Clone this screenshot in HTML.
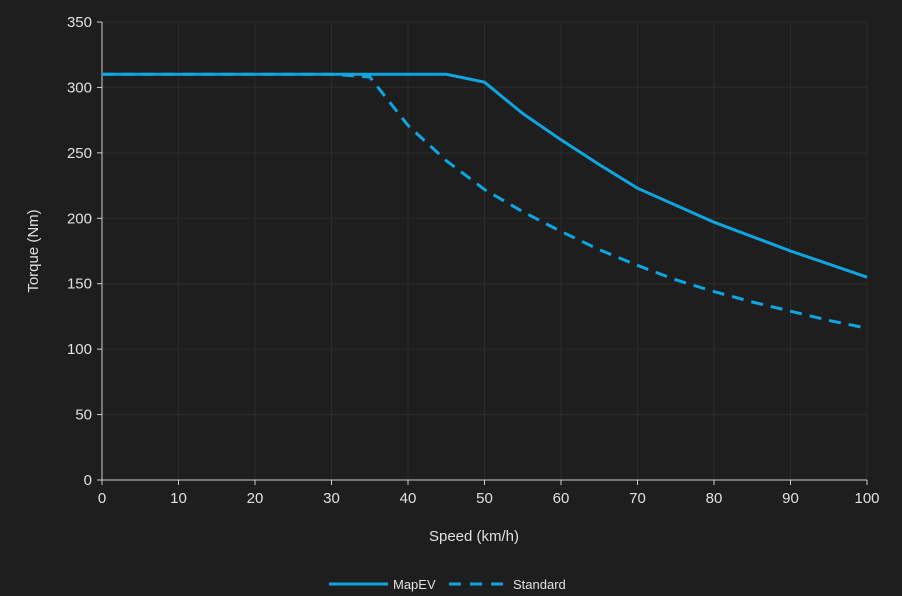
<!DOCTYPE html>
<html><head><meta charset="utf-8"><style>
html,body{margin:0;padding:0;background:#1e1e1e;}
svg{display:block;font-family:"Liberation Sans",sans-serif;}
</style></head><body>
<svg id="s" width="902" height="596" xmlns="http://www.w3.org/2000/svg"></svg>
<script>
const s=document.getElementById('s');
const X=v=>102+7.65*v, Y=v=>480-v*1.3086;
let h='<rect width="902" height="596" fill="#1e1e1e"/>';
for(let i=10;i<=100;i+=10)h+=`<line x1="${X(i)}" y1="22" x2="${X(i)}" y2="480" stroke="#2c2c2c" stroke-width="1"/>`;
for(let i=50;i<=350;i+=50)h+=`<line x1="102" y1="${Y(i)}" x2="867" y2="${Y(i)}" stroke="#2c2c2c" stroke-width="1"/>`;
h+=`<line x1="102" y1="22" x2="102" y2="480" stroke="#cfcfcf"/><line x1="102" y1="480" x2="867" y2="480" stroke="#cfcfcf"/>`;
for(let i=0;i<=350;i+=50){h+=`<line x1="97" y1="${Y(i)}" x2="102" y2="${Y(i)}" stroke="#cfcfcf"/><text x="92" y="${Y(i)+5}" text-anchor="end" font-size="15" fill="#e0e0e0">${i}</text>`;}
for(let i=0;i<=100;i+=10){h+=`<line x1="${X(i)}" y1="480" x2="${X(i)}" y2="485" stroke="#cfcfcf"/><text x="${X(i)}" y="503" text-anchor="middle" font-size="15" fill="#e0e0e0">${i}</text>`;}
h+=`<text x="474" y="541" text-anchor="middle" font-size="15" fill="#e0e0e0">Speed (km/h)</text>`;
h+=`<text transform="translate(38,251) rotate(-90)" text-anchor="middle" font-size="15" fill="#e0e0e0">Torque (Nm)</text>`;
const A=[[0,310],[45,310],[50,304],[55,280],[60,260],[65,241],[70,223],[75,210],[80,197],[85,186],[90,175],[95,165],[100,155]];
const B=[[0,310],[30,310],[35,308],[40,271],[45,244],[50,222],[55,205],[60,190],[65,176],[70,164],[75,153],[80,144],[85,136],[90,129],[95,122],[100,116]];
const p=a=>a.map(d=>X(d[0]).toFixed(1)+','+Y(d[1]).toFixed(1)).join(' ');
h+=`<polyline points="${p(B)}" fill="none" stroke="#0ea5e0" stroke-width="3" stroke-dasharray="12,8"/>`;
h+=`<polyline points="${p(A)}" fill="none" stroke="#0ea5e0" stroke-width="3"/>`;
h+=`<line x1="329" y1="584" x2="388" y2="584" stroke="#0ea5e0" stroke-width="3"/><text x="393" y="589" font-size="13" fill="#e0e0e0">MapEV</text>`;
h+=`<line x1="449" y1="584" x2="503" y2="584" stroke="#0ea5e0" stroke-width="3" stroke-dasharray="12,9"/><text x="513" y="589" font-size="13" fill="#e0e0e0">Standard</text>`;
s.innerHTML=h;
</script>
</body></html>
